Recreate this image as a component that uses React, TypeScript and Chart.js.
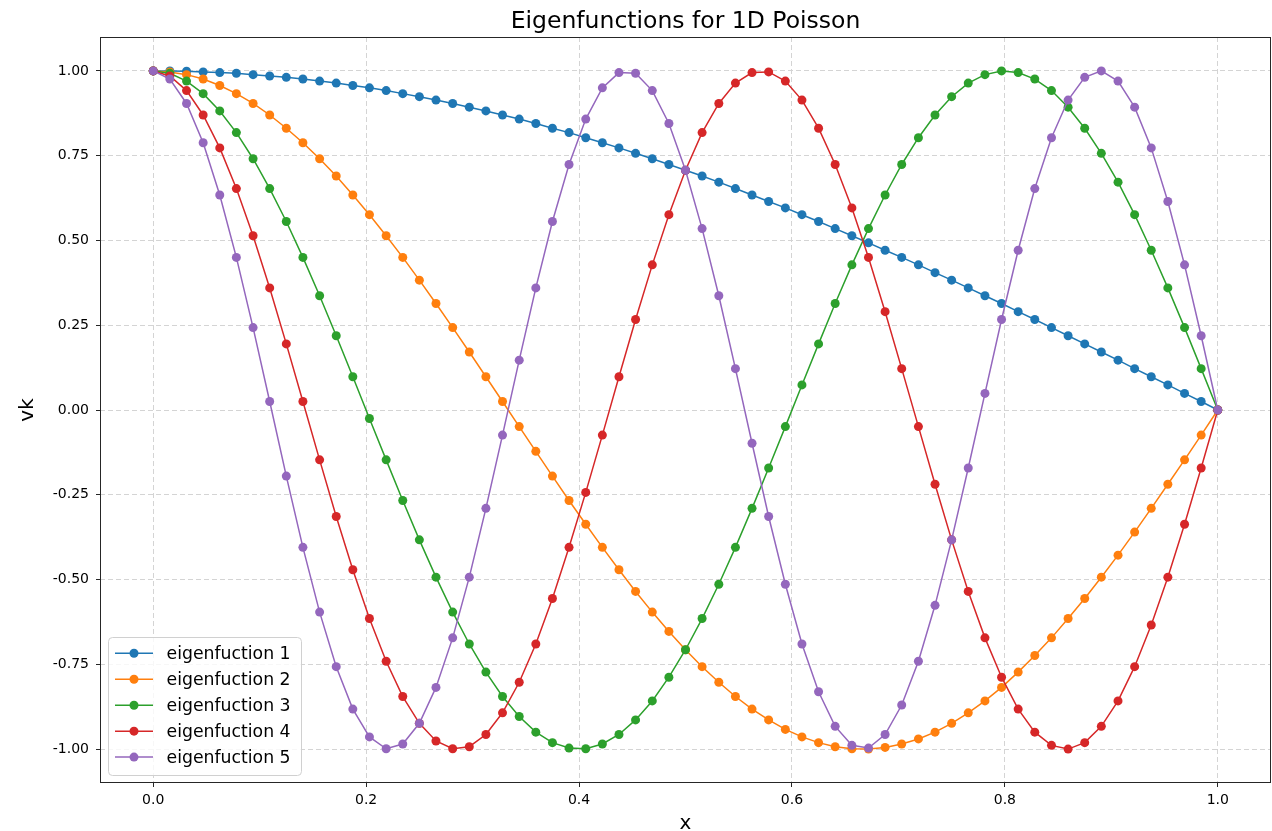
import React, { useEffect, useRef } from "react";
import { Chart, registerables } from "chart.js";

Chart.register(...registerables);

const FONT = '"DejaVu Sans", "Liberation Sans", sans-serif';

// grid positions x_i = i/64, i = 0..64
const X_VALUES = [
  0, 0.0156, 0.0313, 0.0469, 0.0625, 0.0781, 0.0938, 0.1094, 0.125, 0.1406,
  0.1563, 0.1719, 0.1875, 0.2031, 0.2188, 0.2344, 0.25, 0.2656, 0.2813, 0.2969,
  0.3125, 0.3281, 0.3438, 0.3594, 0.375, 0.3906, 0.4063, 0.4219, 0.4375, 0.4531,
  0.4688, 0.4844, 0.5, 0.5156, 0.5313, 0.5469, 0.5625, 0.5781, 0.5938, 0.6094,
  0.625, 0.6406, 0.6563, 0.6719, 0.6875, 0.7031, 0.7188, 0.7344, 0.75, 0.7656,
  0.7813, 0.7969, 0.8125, 0.8281, 0.8438, 0.8594, 0.875, 0.8906, 0.9063, 0.9219,
  0.9375, 0.9531, 0.9688, 0.9844, 1,
];

const EIGEN_1 = [
  1.0, 1.0, 0.999, 0.997, 0.995, 0.993, 0.989, 0.985, 0.981, 0.976,
  0.97, 0.964, 0.957, 0.95, 0.942, 0.933, 0.924, 0.914, 0.904, 0.893,
  0.882, 0.87, 0.858, 0.845, 0.831, 0.818, 0.803, 0.788, 0.773, 0.757,
  0.741, 0.724, 0.707, 0.69, 0.672, 0.653, 0.634, 0.615, 0.596, 0.576,
  0.556, 0.535, 0.514, 0.493, 0.471, 0.45, 0.428, 0.405, 0.383, 0.36,
  0.337, 0.314, 0.29, 0.267, 0.243, 0.219, 0.195, 0.171, 0.147, 0.122,
  0.098, 0.074, 0.049, 0.025, 0.0,
];

const EIGEN_2 = [
  1.0, 0.997, 0.989, 0.976, 0.957, 0.933, 0.904, 0.87, 0.831, 0.788,
  0.741, 0.69, 0.634, 0.576, 0.514, 0.45, 0.383, 0.314, 0.243, 0.171,
  0.098, 0.025, -0.049, -0.122, -0.195, -0.267, -0.337, -0.405, -0.471, -0.535,
  -0.596, -0.653, -0.707, -0.757, -0.803, -0.845, -0.882, -0.914, -0.942, -0.964,
  -0.981, -0.993, -0.999, -1.0, -0.995, -0.985, -0.97, -0.95, -0.924, -0.893,
  -0.858, -0.818, -0.773, -0.724, -0.672, -0.615, -0.556, -0.493, -0.428, -0.36,
  -0.29, -0.219, -0.147, -0.074, 0.0,
];

const EIGEN_3 = [
  1.0, 0.993, 0.97, 0.933, 0.882, 0.818, 0.741, 0.653, 0.556, 0.45,
  0.337, 0.219, 0.098, -0.025, -0.147, -0.267, -0.383, -0.493, -0.596, -0.69,
  -0.773, -0.845, -0.904, -0.95, -0.981, -0.997, -0.999, -0.985, -0.957, -0.914,
  -0.858, -0.788, -0.707, -0.615, -0.514, -0.405, -0.29, -0.171, -0.049, 0.074,
  0.195, 0.314, 0.428, 0.535, 0.634, 0.724, 0.803, 0.87, 0.924, 0.964,
  0.989, 1.0, 0.995, 0.976, 0.942, 0.893, 0.831, 0.757, 0.672, 0.576,
  0.471, 0.36, 0.243, 0.122, 0.0,
];

const EIGEN_4 = [
  1.0, 0.985, 0.942, 0.87, 0.773, 0.653, 0.514, 0.36, 0.195, 0.025,
  -0.147, -0.314, -0.471, -0.615, -0.741, -0.845, -0.924, -0.976, -0.999, -0.993,
  -0.957, -0.893, -0.803, -0.69, -0.556, -0.405, -0.243, -0.074, 0.098, 0.267,
  0.428, 0.576, 0.707, 0.818, 0.904, 0.964, 0.995, 0.997, 0.97, 0.914,
  0.831, 0.724, 0.596, 0.45, 0.29, 0.122, -0.049, -0.219, -0.383, -0.535,
  -0.672, -0.788, -0.882, -0.95, -0.989, -1.0, -0.981, -0.933, -0.858, -0.757,
  -0.634, -0.493, -0.337, -0.171, 0.0,
];

const EIGEN_5 = [
  1.0, 0.976, 0.904, 0.788, 0.634, 0.45, 0.243, 0.025, -0.195, -0.405,
  -0.596, -0.757, -0.882, -0.964, -0.999, -0.985, -0.924, -0.818, -0.672, -0.493,
  -0.29, -0.074, 0.147, 0.36, 0.556, 0.724, 0.858, 0.95, 0.995, 0.993,
  0.942, 0.845, 0.707, 0.535, 0.337, 0.122, -0.098, -0.314, -0.514, -0.69,
  -0.831, -0.933, -0.989, -0.997, -0.957, -0.87, -0.741, -0.576, -0.383, -0.171,
  0.049, 0.267, 0.471, 0.653, 0.803, 0.914, 0.981, 1.0, 0.97, 0.893,
  0.773, 0.615, 0.428, 0.219, 0.0,
];

const SERIES_NAMES = [
  "eigenfuction 1",
  "eigenfuction 2",
  "eigenfuction 3",
  "eigenfuction 4",
  "eigenfuction 5",
];
const SERIES_VALUES = [EIGEN_1, EIGEN_2, EIGEN_3, EIGEN_4, EIGEN_5];
const SERIES_COLORS = ["#1f77b4", "#ff7f0e", "#2ca02c", "#d62728", "#9467bd"];

const X_TICKS = [0, 0.2, 0.4, 0.6, 0.8, 1.0];
const Y_TICKS = [-1.0, -0.75, -0.5, -0.25, 0, 0.25, 0.5, 0.75, 1.0];

const TITLE = "Eigenfunctions for 1D Poisson";
const X_LABEL = "x";
const Y_LABEL = "vk";

const LINE_WIDTH = 1.5;
const POINT_RADIUS = 4.5;

// Frame, title, axis labels and the in-plot legend box
const decorations = {
  id: "decorations",
  afterDraw(chart: any) {
    const { ctx, chartArea: a } = chart;
    ctx.save();

    // axes frame on all four sides
    ctx.strokeStyle = "#262626";
    ctx.lineWidth = 1;
    ctx.strokeRect(a.left + 0.5, a.top + 0.5, a.right - a.left - 1, a.bottom - a.top - 1);

    const cx = (a.left + a.right) / 2;
    ctx.fillStyle = "#000";

    // title
    ctx.font = `23.5px ${FONT}`;
    ctx.textAlign = "center";
    ctx.textBaseline = "alphabetic";
    ctx.fillText(TITLE, cx, 28);

    // x label
    ctx.font = `20px ${FONT}`;
    ctx.fillText(X_LABEL, cx, 829);

    // y label
    ctx.save();
    ctx.translate(33, (a.top + a.bottom) / 2);
    ctx.rotate(-Math.PI / 2);
    ctx.textAlign = "center";
    ctx.textBaseline = "alphabetic";
    ctx.fillText(Y_LABEL, 0, 0);
    ctx.restore();

    // legend
    const bx = 108.5, by = 637.5, bw = 193, bh = 138, r = 4;
    ctx.beginPath();
    ctx.moveTo(bx + r, by);
    ctx.lineTo(bx + bw - r, by);
    ctx.arcTo(bx + bw, by, bx + bw, by + r, r);
    ctx.lineTo(bx + bw, by + bh - r);
    ctx.arcTo(bx + bw, by + bh, bx + bw - r, by + bh, r);
    ctx.lineTo(bx + r, by + bh);
    ctx.arcTo(bx, by + bh, bx, by + bh - r, r);
    ctx.lineTo(bx, by + r);
    ctx.arcTo(bx, by, bx + r, by, r);
    ctx.closePath();
    ctx.fillStyle = "rgba(255,255,255,0.8)";
    ctx.fill();
    ctx.strokeStyle = "#d0d0d0";
    ctx.lineWidth = 1;
    ctx.stroke();

    ctx.font = `17.3px ${FONT}`;
    ctx.textAlign = "left";
    ctx.textBaseline = "middle";
    SERIES_NAMES.forEach((name, i) => {
      const y = 653.3 + i * 25.95;
      ctx.strokeStyle = SERIES_COLORS[i];
      ctx.lineWidth = LINE_WIDTH;
      ctx.beginPath();
      ctx.moveTo(115, y);
      ctx.lineTo(153, y);
      ctx.stroke();
      ctx.fillStyle = SERIES_COLORS[i];
      ctx.beginPath();
      ctx.arc(134, y, POINT_RADIUS, 0, Math.PI * 2);
      ctx.fill();
      ctx.fillStyle = "#000";
      ctx.fillText(name, 166.5, y + 1);
    });

    ctx.restore();
  },
};

export default function App() {
  const canvasRef = useRef<HTMLCanvasElement>(null);

  useEffect(() => {
    document.body.style.margin = "0";
    const canvas = canvasRef.current;
    if (!canvas) return;

    const datasets = SERIES_VALUES.map((values, i) => ({
      label: SERIES_NAMES[i],
      data: values.map((v, j) => ({ x: X_VALUES[j], y: v })),
      borderColor: SERIES_COLORS[i],
      backgroundColor: SERIES_COLORS[i],
      pointBackgroundColor: SERIES_COLORS[i],
      pointBorderWidth: 0,
      pointRadius: POINT_RADIUS,
      pointHoverRadius: POINT_RADIUS,
      borderWidth: LINE_WIDTH,
      tension: 0,
      fill: false,
      // later series drawn on top
      order: SERIES_VALUES.length - 1 - i,
    }));

    const gridCommon = {
      color: "#d4d4d4",
      lineWidth: 1,
      drawTicks: true,
      tickLength: 4,
      tickColor: "#262626",
      tickWidth: 1,
      tickBorderDash: [],
    };

    const chart = new Chart(canvas, {
      type: "line",
      data: { datasets },
      options: {
        animation: false,
        responsive: false,
        maintainAspectRatio: false,
        devicePixelRatio: 1,
        layout: {
          autoPadding: false,
          padding: { top: 37, right: 1, left: 0, bottom: 0 },
        },
        plugins: {
          legend: { display: false },
          tooltip: { enabled: false },
          title: { display: false },
        },
        scales: {
          x: {
            type: "linear",
            min: -0.05,
            max: 1.05,
            afterBuildTicks: (scale: any) => {
              scale.ticks = X_TICKS.map((value) => ({ value }));
            },
            afterFit: (scale: any) => {
              scale.height = 48;
              scale.paddingLeft = 0;
              scale.paddingRight = 0;
            },
            ticks: {
              autoSkip: false,
              maxRotation: 0,
              padding: 5,
              color: "#000",
              font: { family: FONT, size: 14 },
              callback: (v: any) => Number(v).toFixed(1),
            },
            grid: gridCommon,
            border: { display: false, dash: [5, 3] },
          },
          y: {
            type: "linear",
            min: -1.1,
            max: 1.1,
            afterBuildTicks: (scale: any) => {
              scale.ticks = Y_TICKS.map((value) => ({ value }));
            },
            afterFit: (scale: any) => {
              scale.width = 100;
              scale.paddingTop = 0;
              scale.paddingBottom = 0;
            },
            ticks: {
              autoSkip: false,
              padding: 7,
              color: "#000",
              font: { family: FONT, size: 14 },
              callback: (v: any) => Number(v).toFixed(2),
            },
            grid: gridCommon,
            border: { display: false, dash: [5, 3] },
          },
        },
      },
      plugins: [decorations],
    } as any);

    return () => chart.destroy();
  }, []);

  return (
    <div style={{ width: 1272, height: 831 }}>
      <canvas ref={canvasRef} width={1272} height={831} style={{ display: "block" }} />
    </div>
  );
}
